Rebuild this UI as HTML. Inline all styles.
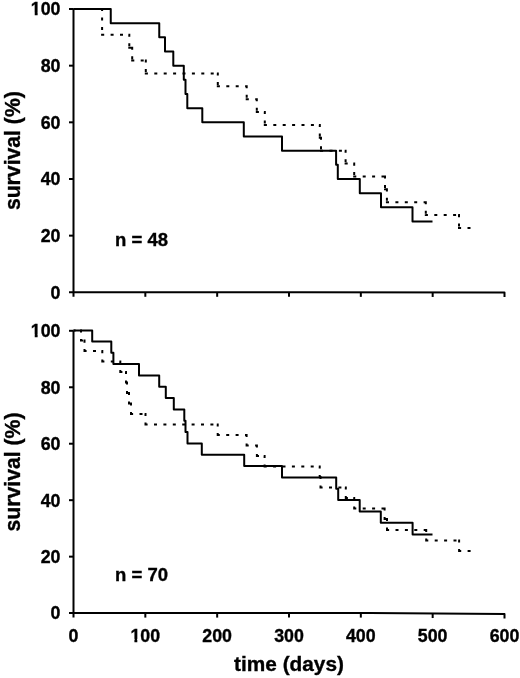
<!DOCTYPE html>
<html><head><meta charset="utf-8"><style>
html,body{margin:0;padding:0;background:#fff;}
body{width:520px;height:678px;overflow:hidden;}
svg{display:block;will-change:transform;}
text{font-family:"Liberation Sans",sans-serif;font-weight:bold;fill:#000;stroke:#000;stroke-width:0.35px;}
.tk{font-size:17.8px;}
.tt{font-size:21px;}
.sv{font-size:21.2px;}
.tm{font-size:20.8px;}
.nl{font-size:18.5px;}
.ax{fill:none;stroke:#000;stroke-width:2.0;stroke-linecap:butt;stroke-linejoin:round;}
.sl{fill:none;stroke:#000;stroke-width:2.0;stroke-linejoin:round;}
.dt{fill:none;stroke:#000;stroke-width:2.0;stroke-linecap:butt;stroke-linejoin:miter;}
</style></head><body>
<svg width="520" height="678" viewBox="0 0 520 678">
<path d="M73.5,9.0 V296.8" class="ax"/>
<path d="M69.0,292.3 H300 L504.5,292.55 V297.05" class="ax"/>
<path d="M145.33,292.30 V296.80" class="ax"/>
<path d="M217.17,292.30 V296.80" class="ax"/>
<path d="M289.00,292.30 V296.80" class="ax"/>
<path d="M360.83,292.37 V296.87" class="ax"/>
<path d="M432.67,292.46 V296.96" class="ax"/>
<path d="M69.0,235.64 H73.5" class="ax"/>
<path d="M69.0,178.98 H73.5" class="ax"/>
<path d="M69.0,122.32 H73.5" class="ax"/>
<path d="M69.0,65.66 H73.5" class="ax"/>
<path d="M69.0,9.00 H73.5" class="ax"/>
<text x="60.5" y="298.65" class="tk" text-anchor="end">0</text>
<text x="60.5" y="241.99" class="tk" text-anchor="end">20</text>
<text x="60.5" y="185.33" class="tk" text-anchor="end">40</text>
<text x="60.5" y="128.67" class="tk" text-anchor="end">60</text>
<text x="60.5" y="72.01" class="tk" text-anchor="end">80</text>
<text x="60.5" y="15.35" class="tk" text-anchor="end">100</text>
<rect x="30.95" y="12.76" width="3.78" height="4.37" fill="#fff"/>
<rect x="37.62" y="12.76" width="3.56" height="4.37" fill="#fff"/>
<path d="M73.50,9.00L75.60,9.00M82.00,9.00L85.00,9.00M91.40,9.00L94.40,9.00M100.80,9.00L102.10,9.00M101.20,9.00L102.10,9.00L102.10,11.10M102.10,17.50L102.10,20.50M102.10,26.90L102.10,29.90M102.10,33.85L102.10,34.75L104.20,34.75M110.60,34.75L113.60,34.75M120.00,34.75L123.00,34.75M128.40,34.75L129.30,34.75L129.30,36.85M129.30,43.25L129.30,46.25M129.30,46.73L129.30,47.63L131.40,47.63M131.30,47.63L132.20,47.63L132.20,49.73M132.20,56.13L132.20,59.13M132.20,59.61L132.20,60.51L134.30,60.51M140.70,60.51L143.70,60.51M144.90,60.51L145.80,60.51L145.80,62.61M145.80,69.01L145.80,72.01M145.80,72.49L145.80,73.39L147.90,73.39M154.30,73.39L157.30,73.39M163.70,73.39L166.70,73.39M173.10,73.39L176.10,73.39M182.50,73.39L185.50,73.39M191.90,73.39L194.90,73.39M201.30,73.39L204.30,73.39M210.70,73.39L213.70,73.39M216.90,73.39L217.80,73.39L217.80,75.49M217.80,81.89L217.80,84.89M217.80,85.36L217.80,86.26L219.90,86.26M226.30,86.26L229.30,86.26M235.70,86.26L238.70,86.26M245.10,86.26L246.70,86.26M245.80,86.26L246.70,86.26L246.70,88.36M246.70,94.76L246.70,97.76M246.70,98.24L246.70,99.14L248.80,99.14M255.20,99.14L256.80,99.14M255.90,99.14L256.80,99.14L256.80,101.24M256.80,107.64L256.80,110.64M256.80,111.12L256.80,112.02L258.90,112.02M263.90,112.02L264.80,112.02L264.80,114.12M264.80,120.52L264.80,123.52M264.80,124.00L264.80,124.90L266.90,124.90M273.30,124.90L276.30,124.90M282.70,124.90L285.70,124.90M292.10,124.90L295.10,124.90M301.50,124.90L304.50,124.90M310.90,124.90L313.90,124.90M318.90,124.90L319.80,124.90L319.80,127.00M319.80,133.40L319.80,136.40M319.80,136.87L319.80,137.77L321.00,137.77M320.10,137.77L321.00,137.77L321.00,139.87M321.00,146.27L321.00,149.27M321.00,149.75L321.00,150.65L323.10,150.65M329.50,150.65L332.50,150.65M338.90,150.65L341.90,150.65M344.70,150.65L345.60,150.65L345.60,152.75M345.60,159.15L345.60,162.15M345.60,162.63L345.60,163.53L347.70,163.53M354.10,163.53L354.20,163.53M353.30,163.53L354.20,163.53L354.20,165.63M354.20,172.03L354.20,175.03M354.20,175.50L354.20,176.40L356.30,176.40M362.70,176.40L365.70,176.40M372.10,176.40L375.10,176.40M381.50,176.40L384.50,176.40M384.10,176.40L385.00,176.40L385.00,178.50M385.00,184.90L385.00,187.90M385.00,188.38L385.00,189.28L386.90,189.28M386.00,189.28L386.90,189.28L386.90,191.38M386.90,197.78L386.90,200.78M386.90,201.26L386.90,202.16L389.00,202.16M395.40,202.16L398.40,202.16M404.80,202.16L407.80,202.16M414.20,202.16L417.20,202.16M423.60,202.16L425.80,202.16M424.90,202.16L425.80,202.16L425.80,204.26M425.80,210.66L425.80,213.66M425.80,214.14L425.80,215.04L427.90,215.04M434.30,215.04L437.30,215.04M443.70,215.04L446.70,215.04M453.10,215.04L456.10,215.04M458.10,215.04L459.00,215.04L459.00,217.14M459.00,223.54L459.00,226.54M459.00,227.01L459.00,227.91L461.10,227.91M467.50,227.91L470.50,227.91" class="dt"/>
<path d="M73.50,9.00 H110.75 V23.17 H159.25 V37.33 H165.00 V51.50 H173.30 V65.66 H183.80 V79.83 H185.50 V93.99 H187.30 V108.16 H202.30 V122.32 H243.80 V136.49 H282.00 V150.65 H336.10 V164.81 H337.80 V178.98 H359.80 V193.15 H381.00 V207.31 H412.50 V221.48 H432.50" class="sl"/>
<text transform="translate(19.7,150.65) rotate(-90)" text-anchor="middle" class="tt sv">survival (%)</text>
<text x="115" y="245.9" class="nl">n = 48</text>
<path d="M73.5,330.8 V617.6" class="ax"/>
<path d="M69.0,613.1 H370 L504.5,614.05 V618.55" class="ax"/>
<path d="M145.33,613.10 V617.60" class="ax"/>
<path d="M217.17,613.10 V617.60" class="ax"/>
<path d="M289.00,613.10 V617.60" class="ax"/>
<path d="M360.83,613.10 V617.60" class="ax"/>
<path d="M432.67,613.54 V618.04" class="ax"/>
<path d="M69.0,556.64 H73.5" class="ax"/>
<path d="M69.0,500.18 H73.5" class="ax"/>
<path d="M69.0,443.72 H73.5" class="ax"/>
<path d="M69.0,387.26 H73.5" class="ax"/>
<path d="M69.0,330.80 H73.5" class="ax"/>
<text x="60.5" y="619.45" class="tk" text-anchor="end">0</text>
<text x="60.5" y="562.99" class="tk" text-anchor="end">20</text>
<text x="60.5" y="506.53" class="tk" text-anchor="end">40</text>
<text x="60.5" y="450.07" class="tk" text-anchor="end">60</text>
<text x="60.5" y="393.61" class="tk" text-anchor="end">80</text>
<text x="60.5" y="337.15" class="tk" text-anchor="end">100</text>
<rect x="30.95" y="334.56" width="3.78" height="4.37" fill="#fff"/>
<rect x="37.62" y="334.56" width="3.56" height="4.37" fill="#fff"/>
<path d="M73.50,330.50L75.60,330.50M80.10,330.50L81.00,330.50L81.00,332.60M81.00,339.00L81.00,340.54M81.00,339.64L81.00,340.54L83.10,340.54M83.60,340.54L84.50,340.54L84.50,342.64M84.50,349.04L84.50,351.03M84.50,350.13L84.50,351.03L86.60,351.03M93.00,351.03L96.00,351.03M101.40,351.03L102.30,351.03L102.30,353.13M102.30,359.53L102.30,361.53M102.30,360.63L102.30,361.53L104.40,361.53M110.80,361.53L113.80,361.53M120.20,361.53L120.30,361.53M119.40,361.53L120.30,361.53L120.30,363.63M120.30,370.03L120.30,372.02M120.30,371.12L120.30,372.02L122.40,372.02M125.10,372.02L126.00,372.02L126.00,374.12M126.00,380.52L126.00,382.52M126.00,381.62L126.00,382.52L127.00,382.52M126.10,382.52L127.00,382.52L127.00,384.62M127.00,391.02L127.00,393.02M127.00,392.12L127.00,393.02L129.00,393.02M128.10,393.02L129.00,393.02L129.00,395.12M129.00,401.52L129.00,403.51M129.00,402.61L129.00,403.51L131.00,403.51M130.10,403.51L131.00,403.51L131.00,405.61M131.00,412.01L131.00,414.01M131.00,413.11L131.00,414.01L133.10,414.01M139.50,414.01L142.50,414.01M144.60,414.01L145.50,414.01L145.50,416.11M145.50,422.51L145.50,424.50M145.50,423.60L145.50,424.50L147.60,424.50M154.00,424.50L157.00,424.50M163.40,424.50L166.40,424.50M172.80,424.50L175.80,424.50M182.20,424.50L185.20,424.50M191.60,424.50L194.60,424.50M201.00,424.50L204.00,424.50M210.40,424.50L213.40,424.50M216.80,424.50L217.70,424.50L217.70,426.60M217.70,433.00L217.70,435.00M217.70,434.10L217.70,435.00L219.80,435.00M226.20,435.00L229.20,435.00M235.60,435.00L238.60,435.00M245.00,435.00L246.60,435.00M245.70,435.00L246.60,435.00L246.60,437.10M246.60,443.50L246.60,445.50M246.60,444.60L246.60,445.50L248.70,445.50M255.10,445.50L256.90,445.50M256.00,445.50L256.90,445.50L256.90,447.60M256.90,454.00L256.90,455.99M256.90,455.09L256.90,455.99L259.00,455.99M263.70,455.99L264.60,455.99L264.60,458.09M264.60,464.49L264.60,466.49M264.60,465.59L264.60,466.49L266.70,466.49M273.10,466.49L276.10,466.49M282.50,466.49L285.50,466.49M291.90,466.49L294.90,466.49M301.30,466.49L304.30,466.49M310.70,466.49L313.70,466.49M318.80,466.49L319.70,466.49L319.70,468.59M319.70,474.99L319.70,476.98M319.70,476.08L319.70,476.98L320.50,476.98M319.70,476.98L320.50,476.98L320.50,479.08M320.50,485.48L320.50,487.48M320.50,486.58L320.50,487.48L322.60,487.48M329.00,487.48L332.00,487.48M338.40,487.48L341.40,487.48M344.90,487.48L345.80,487.48L345.80,489.58M345.80,495.98L345.80,497.97M345.80,497.07L345.80,497.97L347.90,497.97M353.30,497.97L354.20,497.97L354.20,500.07M354.20,506.47L354.20,508.47M354.20,507.57L354.20,508.47L356.30,508.47M362.70,508.47L365.70,508.47M372.10,508.47L375.10,508.47M381.50,508.47L384.50,508.47M383.70,508.47L384.60,508.47L384.60,510.57M384.60,516.97L384.60,518.97M384.60,518.07L384.60,518.97L386.70,518.97M386.10,518.97L387.00,518.97L387.00,521.07M387.00,527.47L387.00,529.91M387.00,529.01L387.00,529.91L389.10,529.91M395.50,529.91L398.50,529.91M404.90,529.91L407.90,529.91M414.30,529.91L417.30,529.91M423.70,529.91L426.20,529.91M425.30,529.91L426.20,529.91L426.20,532.01M426.20,538.41L426.20,540.41M426.20,539.51L426.20,540.41L428.30,540.41M434.70,540.41L437.70,540.41M444.10,540.41L447.10,540.41M453.50,540.41L456.50,540.41M458.20,540.41L459.10,540.41L459.10,542.51M459.10,548.91L459.10,550.90M459.10,550.00L459.10,550.90L461.20,550.90M467.60,550.90L470.60,550.90" class="dt"/>
<path d="M73.50,330.50 H92.20 V341.38 H111.30 V352.71 H113.40 V364.05 H139.00 V375.38 H159.20 V386.72 H165.80 V398.05 H173.80 V409.39 H184.30 V420.72 H185.50 V432.06 H187.50 V443.40 H201.80 V454.73 H244.20 V466.07 H282.00 V477.40 H336.20 V488.74 H338.20 V500.07 H359.70 V511.41 H380.80 V522.75 H412.60 V534.53 H432.50" class="sl"/>
<text transform="translate(19.7,471.95) rotate(-90)" text-anchor="middle" class="tt sv">survival (%)</text>
<text x="115" y="581.3" class="nl">n = 70</text>
<text x="73.50" y="641.5" class="tk" text-anchor="middle">0</text>
<text x="145.33" y="641.5" class="tk" text-anchor="middle">100</text>
<rect x="130.63" y="638.91" width="3.78" height="4.37" fill="#fff"/>
<rect x="137.31" y="638.91" width="3.56" height="4.37" fill="#fff"/>
<text x="217.17" y="641.5" class="tk" text-anchor="middle">200</text>
<text x="289.00" y="641.5" class="tk" text-anchor="middle">300</text>
<text x="360.83" y="641.5" class="tk" text-anchor="middle">400</text>
<text x="432.67" y="641.5" class="tk" text-anchor="middle">500</text>
<text x="504.50" y="641.5" class="tk" text-anchor="middle">600</text>
<text x="289.00" y="671.3" class="tt tm" text-anchor="middle">time (days)</text>
</svg>
</body></html>
